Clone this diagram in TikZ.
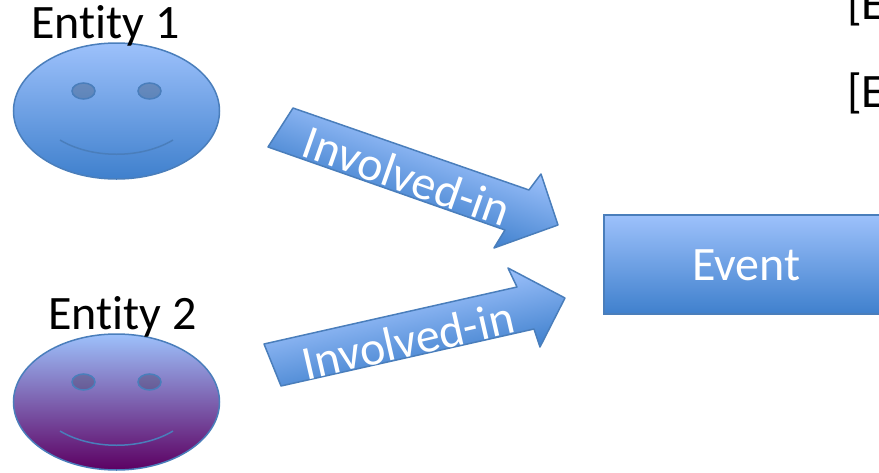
\documentclass[tikz,border=0pt]{standalone}
\usepackage{fontspec}
\setmainfont[Ligatures=NoCommon]{Carlito}
\usetikzlibrary{positioning,shapes.geometric}

\definecolor{boxtop}{HTML}{9DC1FB}
\definecolor{boxbot}{HTML}{3F80CD}
\definecolor{boxline}{HTML}{4A7EBB}
\definecolor{plum}{HTML}{5C0062}

\begin{document}
\begin{tikzpicture}[x=1pt,y=-1pt,node distance=291pt,on grid,font=\fontsize{48}{48}\selectfont]
       \tikzstyle{smiley}=[ellipse,draw=boxline,line width=1.5pt,inner sep=0pt,minimum width=206pt,minimum height=136pt,top color=boxtop,bottom color=boxbot]
       \tikzstyle{eye}=[ellipse,draw=boxline,fill=black,fill opacity=0.2,draw opacity=1,line width=1.5pt,inner sep=0pt,minimum width=23pt,minimum height=16pt]
       \tikzstyle{block}=[draw=boxline,line width=1.5pt,line join=round,top color=boxtop,bottom color=boxbot]
       \tikzstyle{caption}=[anchor=base,inner sep=0pt]
       \tikzstyle{whitetext}=[text=white,inner sep=0pt]

       \clip (0,0) rectangle (879,472);
       \useasboundingbox (0,0) rectangle (879,472);

       \node[smiley] (E1) at (116.5,111) {};
       \node[smiley,top color=boxtop,bottom color=plum] (E2) [below of=E1] {};

       \node[caption] (L1) at (105.5,38) {Entity 1};
       \node[caption] (L2) at (122.5,329) {Entity 2};

       \node[eye] (E1a) at ([shift={(-33,-20)}]E1.center) {};
       \node[eye] (E1b) at ([shift={(33,-20)}]E1.center) {};
       \node[eye] (E2a) at ([shift={(-33,-20)}]E2.center) {};
       \node[eye] (E2b) at ([shift={(33,-20)}]E2.center) {};

       \path[draw=boxline,line width=1.5pt]
       ([shift={(-56.5,29)}]E1.center) .. controls ([shift={(-25,48)}]E1.center) and ([shift={(25,48)}]E1.center) .. ([shift={(56.5,29)}]E1.center)
       ([shift={(-56.5,29)}]E2.center) .. controls ([shift={(-25,48)}]E2.center) and ([shift={(25,48)}]E2.center) .. ([shift={(56.5,29)}]E2.center);

       % the two arrows lean a little, so they are outlines and not arrow nodes
       \path[block,rotate around={19.3:(419,176)},transform canvas={rotate around={-19.3:(419,176)}}]
       (293,108) -- (529,190) -- (541,174) -- (558,225) -- (494,248) -- (505,230) -- (268,147) -- cycle;
       \path[block,rotate around={-12.8:(419,331)},transform canvas={rotate around={12.8:(419,331)}}]
       (264,344) -- (517,287) -- (508,268) -- (565,298) -- (540,347) -- (534,329) -- (281,386) -- cycle;

       \node[whitetext,rotate=-19.4] (A1) at (407,176) {Involved-in};
       \node[whitetext,rotate=12.9] (A2) at (408,340) {Involved-in};

       \node[draw=boxline,line width=1.5pt,text=white,inner sep=0pt,text height=33pt,minimum width=285pt,minimum height=99pt,top color=boxtop,bottom color=boxbot] (V) at (746.5,264.5) {Event};

       \node[anchor=base west,inner sep=0pt] (B1) at (847,19) {[E};
       \node[anchor=base west,inner sep=0pt] (B2) at (847,107) {[E};
     \end{tikzpicture}
\end{document}
